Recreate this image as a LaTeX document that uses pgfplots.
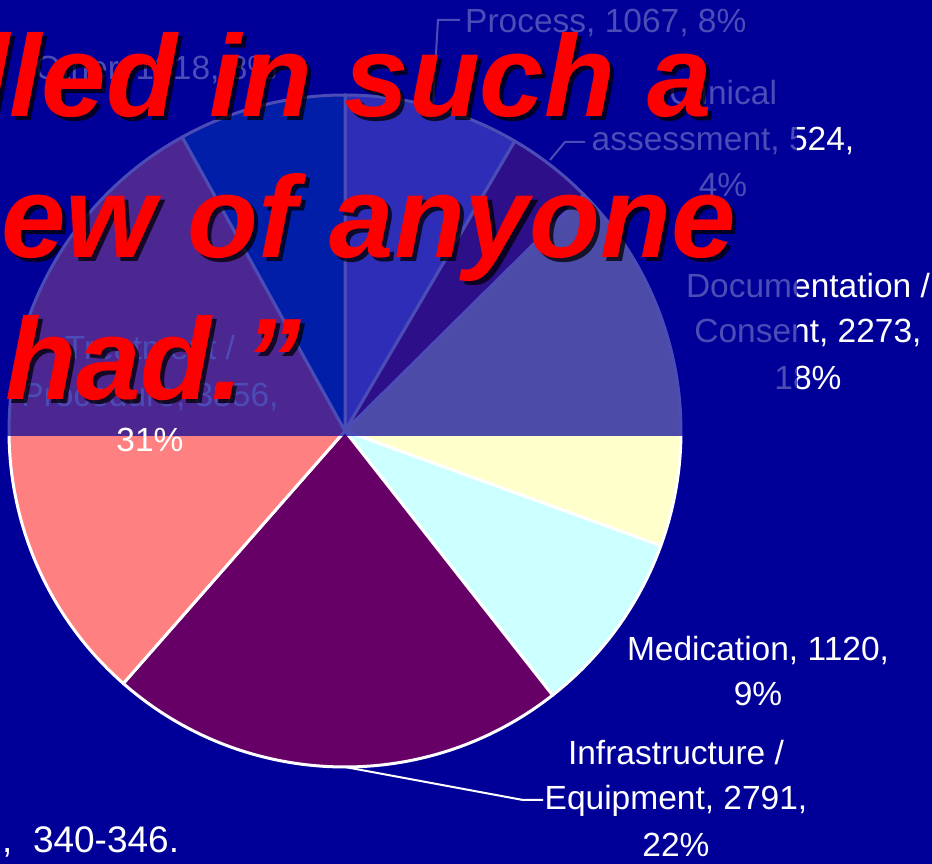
\documentclass[border=0pt]{standalone}
\usepackage{pgfplots}
\pgfplotsset{compat=1.18}
\usepackage{pgfplotstable}
\usepackage{fontspec}
\setmainfont{Liberation Sans}
\definecolor{bg}{HTML}{000099}
\definecolor{c0}{HTML}{9999FF}
\definecolor{c1}{HTML}{993366}
\definecolor{c2}{HTML}{FFFFCC}
\definecolor{c3}{HTML}{CCFFFF}
\definecolor{c4}{HTML}{660066}
\definecolor{c5}{HTML}{FF8080}
\definecolor{c6}{HTML}{0066CC}

% Process, Clinical assessment, Documentation/Consent, Medication,
% Infrastructure/Equipment, Treatment/Procedure, Other
\pgfplotstableread{
value
1067
524
2273
1120
2791
3856
1018
}\piedata

\gdef\total{0}
\pgfplotsforeachungrouped \i in {0,...,6}{%
  \pgfplotstablegetelem{\i}{value}\of\piedata
  \pgfmathsetmacro\tmp{\total+\pgfplotsretval}%
  \xdef\total{\tmp}}
\gdef\cum{0}
\pgfplotsforeachungrouped \i in {0,...,6}{%
  \pgfplotstablegetelem{\i}{value}\of\piedata
  \pgfmathsetmacro\a{90-360*(\cum/\total)}%
  \pgfmathsetmacro\tmp{\cum+\pgfplotsretval}%
  \xdef\cum{\tmp}%
  \pgfmathsetmacro\b{90-360*(\cum/\total)}%
  \expandafter\xdef\csname sa\i\endcsname{\a}%
  \expandafter\xdef\csname ea\i\endcsname{\b}}

\newcommand\lblfont{\fontsize{33.5}{46}\selectfont}
\newcommand\lbl[3]{\node[anchor=base,text=white,inner sep=0pt,font=\lblfont] at (#1,864-#2) {#3};}

\begin{document}
\begin{tikzpicture}[x=1pt,y=1pt]
\useasboundingbox (0,0) rectangle (932,864);
\clip (0,0) rectangle (932,864);
\fill[bg] (0,0) rectangle (932,864);
\begin{axis}[at={(345pt,433pt)}, anchor=center, width=672pt, height=672pt,
  scale only axis, xmin=-1, xmax=1, ymin=-1, ymax=1, hide axis, clip=false]
\pgfplotsinvokeforeach{0,...,6}{%
  \filldraw[fill=c#1, draw=white, line width=3pt, line join=round]
    (axis cs:0,0) -- (axis cs:{cos(\csname sa#1\endcsname)},{sin(\csname sa#1\endcsname)})
    arc[start angle=\csname sa#1\endcsname, end angle=\csname ea#1\endcsname, radius=336pt] -- cycle;
}
\end{axis}
% leader lines
\draw[white, line width=2pt] (433,864-104) -- (438,864-20) -- (460,864-20);
\draw[white, line width=2pt] (550,864-160) -- (565,864-142) -- (585,864-142);
\draw[white, line width=2pt] (345,864-767) -- (523,864-800) -- (543,864-800);
% labels
\node[anchor=base west,text=white,inner sep=0pt,font=\lblfont] at (465,864-33) {Process, 1067, 8\%};
\lbl{723}{105}{Clinical}
\lbl{723}{151}{assessment, 524,}
\lbl{723}{197}{4\%}
\lbl{808}{298}{Documentation /}
\lbl{808}{343}{Consent, 2273,}
\lbl{808}{390}{18\%}
\lbl{758}{661}{Medication, 1120,}
\lbl{758}{706}{9\%}
\lbl{676}{765}{Infrastructure /}
\lbl{676}{810}{Equipment, 2791,}
\lbl{676}{857}{22\%}
\lbl{150}{360}{Treatment /}
\lbl{150}{407}{Procedure, 3856,}
\node[anchor=base west,text=white,inner sep=0pt,font=\lblfont] at (35,864-80) {Other, 1018, 8\%};
% translucent overlay
\fill[bg, fill opacity=0.7] (0,864-436) rectangle (797,864);
\lbl{150}{452}{31\%}
\node[anchor=base west,text=white,inner sep=0pt,font=\fontsize{37}{46}\selectfont] at (2,864-853) {,\ \ 340-346.};
% red quote text with shadow
\begin{scope}[every node/.style={inner sep=0pt, font=\fontsize{116}{140}\selectfont\bfseries\itshape}]
\foreach \dx/\dy/\col/\op in {4/-4/black/0.75, 0/0/red/1}{
  \node[anchor=base west, text=\col, text opacity=\op] at (-23+\dx,864-117+\dy) {lled in such a};
  \node[anchor=base east, text=\col, text opacity=\op] at (736+\dx,864-258+\dy) {ew of anyone};
  \node[anchor=base west, text=\col, text opacity=\op] at (5+\dx,864-400+\dy) {had.”};
}
\end{scope}
\end{tikzpicture}
\end{document}
